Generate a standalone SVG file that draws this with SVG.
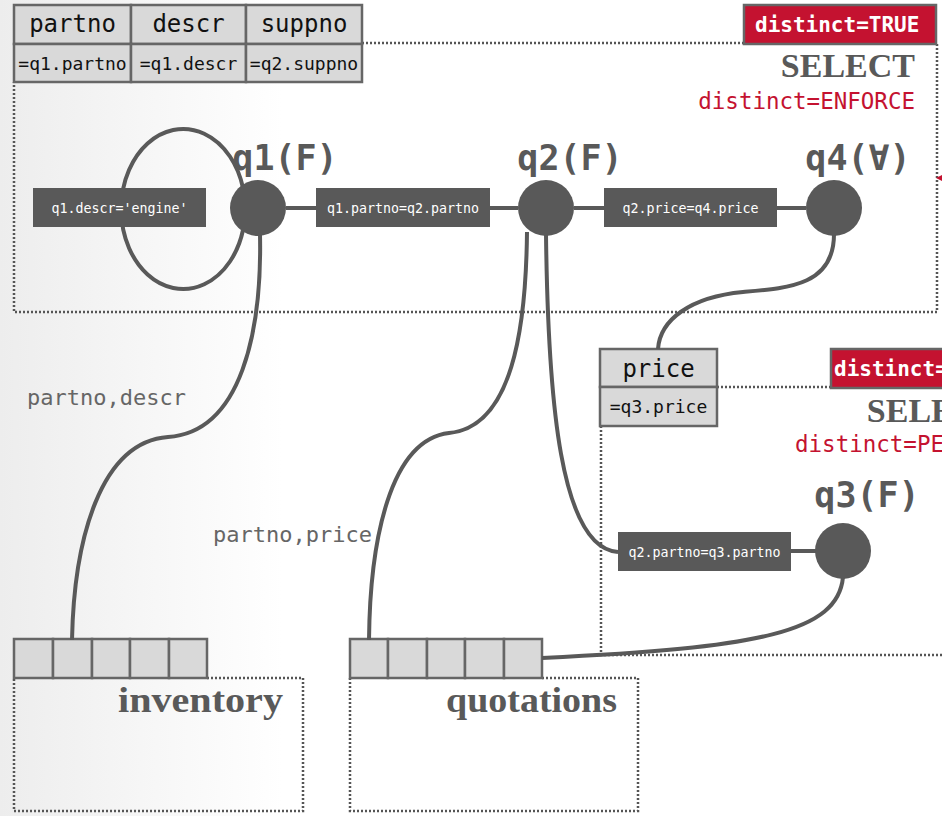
<svg xmlns="http://www.w3.org/2000/svg" width="942" height="816" viewBox="0 0 942 816">
  <defs>
    <linearGradient id="bg" x1="0" y1="0" x2="1" y2="0">
      <stop offset="0" stop-color="#ededed"/>
      <stop offset="0.3" stop-color="#ffffff"/>
      <stop offset="1" stop-color="#ffffff"/>
    </linearGradient>
    <style>
      .frame { fill: none; stroke: #555; stroke-width: 2.5; stroke-dasharray: 2 2; }
      .cell { fill: #d9d9d9; stroke: #666; stroke-width: 2.5; }
      .hdr { font-family: "DejaVu Sans Mono", monospace; font-size: 24px; fill: #111; text-anchor: middle; }
      .sub { font-family: "DejaVu Sans Mono", monospace; font-size: 18px; fill: #111; text-anchor: middle; }
      .flag { fill: #c41230; stroke: #666; stroke-width: 2.5; }
      .flagtxt { font-family: "DejaVu Sans Mono", monospace; font-weight: bold; font-size: 21px; fill: #fff; }
      .op { font-family: "Liberation Serif", serif; font-weight: bold; font-size: 34px; fill: #595959; text-anchor: end; }
      .mode { font-family: "DejaVu Sans Mono", monospace; font-size: 22.5px; fill: #c41230; }
      .qlbl { font-family: "DejaVu Sans Mono", monospace; font-weight: bold; font-size: 35px; fill: #595959; text-anchor: middle; }
      .node { fill: #595959; }
      .pred { fill: #595959; }
      .predtxt { font-family: "DejaVu Sans Mono", monospace; font-size: 13.3px; fill: #fff; text-anchor: middle; }
      .edge { fill: none; stroke: #595959; stroke-width: 4; }
      .cols { font-family: "DejaVu Sans Mono", monospace; font-size: 22px; fill: #666; }
      .tbl { font-family: "Liberation Serif", serif; font-weight: bold; font-size: 36px; fill: #595959; }
    </style>
  </defs>

  <rect x="0" y="0" width="942" height="816" fill="url(#bg)"/>

  <!-- outer SELECT block -->
  <g id="select-outer">
    <path class="frame" d="M362,43 H744 M937,44 V312 H14 V82"/>
    <rect class="flag" x="744" y="5" width="192" height="39"/>
    <text class="flagtxt" x="755" y="32">distinct=TRUE</text>
    <text class="op" x="915" y="77">SELECT</text>
    <text class="mode" x="915" y="109" text-anchor="end">distinct=ENFORCE</text>
    <polygon points="936,178 942,175 942,181" fill="#c41230"/>
  </g>

  <!-- output column header -->
  <g id="head-outer">
    <rect class="cell" x="14" y="5" width="117" height="39"/>
    <rect class="cell" x="131" y="5" width="115" height="39"/>
    <rect class="cell" x="246" y="5" width="116" height="39"/>
    <rect class="cell" x="14" y="44" width="117" height="38"/>
    <rect class="cell" x="131" y="44" width="115" height="38"/>
    <rect class="cell" x="246" y="44" width="116" height="38"/>
    <text class="hdr" x="72.5" y="32">partno</text>
    <text class="hdr" x="188.5" y="32">descr</text>
    <text class="hdr" x="304" y="32">suppno</text>
    <text class="sub" x="72.5" y="70">=q1.partno</text>
    <text class="sub" x="188.5" y="70">=q1.descr</text>
    <text class="sub" x="304" y="70">=q2.suppno</text>
  </g>

  <!-- inner SELECT block -->
  <g id="select-inner">
    <path class="frame" d="M717,387 H830 M601,426 V655 H942"/>
    <rect class="flag" x="831" y="349" width="120" height="39"/>
    <text class="flagtxt" x="834" y="376">distinct=</text>
    <text class="op" x="1001" y="422">SELECT</text>
    <text class="mode" x="795" y="452">distinct=PE</text>
  </g>

  <g id="head-inner">
    <rect class="cell" x="600" y="349" width="117" height="38"/>
    <rect class="cell" x="600" y="387" width="117" height="39"/>
    <text class="hdr" x="658.5" y="377">price</text>
    <text class="sub" x="658.5" y="413">=q3.price</text>
  </g>

  <!-- base tables -->
  <g id="inventory">
    <path class="frame" d="M207,678 H303 V811 H14 V678"/>
    <rect class="cell" x="14" y="639" width="39" height="39"/>
    <rect class="cell" x="53" y="639" width="39" height="39"/>
    <rect class="cell" x="92" y="639" width="38" height="39"/>
    <rect class="cell" x="130" y="639" width="39" height="39"/>
    <rect class="cell" x="169" y="639" width="38" height="39"/>
    <text class="tbl" x="118" y="712" textLength="165" lengthAdjust="spacingAndGlyphs">inventory</text>
  </g>

  <g id="quotations">
    <path class="frame" d="M542,678 H638 V811 H350 V678"/>
    <rect class="cell" x="350" y="639" width="38" height="39"/>
    <rect class="cell" x="388" y="639" width="39" height="39"/>
    <rect class="cell" x="427" y="639" width="38" height="39"/>
    <rect class="cell" x="465" y="639" width="39" height="39"/>
    <rect class="cell" x="504" y="639" width="38" height="39"/>
    <text class="tbl" x="446" y="712" textLength="171" lengthAdjust="spacingAndGlyphs">quotations</text>
  </g>

  <!-- connectors -->
  <g id="edges">
    <path class="edge" d="M243,188 A62,80 0 1 0 243,230"/>
    <line class="edge" x1="286" y1="208" x2="316" y2="208"/>
    <line class="edge" x1="490" y1="208" x2="518" y2="208"/>
    <line class="edge" x1="574" y1="208" x2="604" y2="208"/>
    <line class="edge" x1="777" y1="208" x2="806" y2="208"/>
    <line class="edge" x1="791" y1="551" x2="816" y2="551"/>
    <path class="edge" d="M260,234 C262,330 242,432 168,437 C100,442 74,540 72,640"/>
    <path class="edge" d="M527,232 C526,330 512,427 449,433 C390,440 370,540 369,640"/>
    <path class="edge" d="M546,234 C548,400 560,548 618,552"/>
    <path class="edge" d="M834,234 C834,285 790,288 743,292 C690,297 660,320 658,349"/>
    <path class="edge" d="M843,577 C838,632 760,648 542,658"/>
  </g>

  <!-- predicate labels -->
  <g id="pred-q1-descr">
    <rect class="pred" x="33" y="188" width="173" height="39"/>
    <text class="predtxt" x="119.5" y="212.5">q1.descr='engine'</text>
  </g>
  <g id="pred-q1-q2">
    <rect class="pred" x="316" y="188" width="174" height="39"/>
    <text class="predtxt" x="403" y="212.5">q1.partno=q2.partno</text>
  </g>
  <g id="pred-q2-q4">
    <rect class="pred" x="604" y="188" width="173" height="39"/>
    <text class="predtxt" x="690.5" y="212.5">q2.price=q4.price</text>
  </g>
  <g id="pred-q2-q3">
    <rect class="pred" x="618" y="532" width="173" height="39"/>
    <text class="predtxt" x="704.5" y="556.5">q2.partno=q3.partno</text>
  </g>

  <!-- quantifier nodes -->
  <g id="q1">
    <circle class="node" cx="258" cy="208" r="28"/>
    <text class="qlbl" x="285" y="170">q1(F)</text>
  </g>
  <g id="q2">
    <circle class="node" cx="546" cy="208" r="28"/>
    <text class="qlbl" x="570" y="170">q2(F)</text>
  </g>
  <g id="q4">
    <circle class="node" cx="834" cy="208" r="28"/>
    <text class="qlbl" x="858" y="170">q4(∀)</text>
  </g>
  <g id="q3">
    <circle class="node" cx="843" cy="551" r="28"/>
    <text class="qlbl" x="867" y="507">q3(F)</text>
  </g>

  <!-- projected columns -->
  <g id="cols">
    <text class="cols" x="27" y="405">partno,descr</text>
    <text class="cols" x="213" y="542">partno,price</text>
  </g>
</svg>
